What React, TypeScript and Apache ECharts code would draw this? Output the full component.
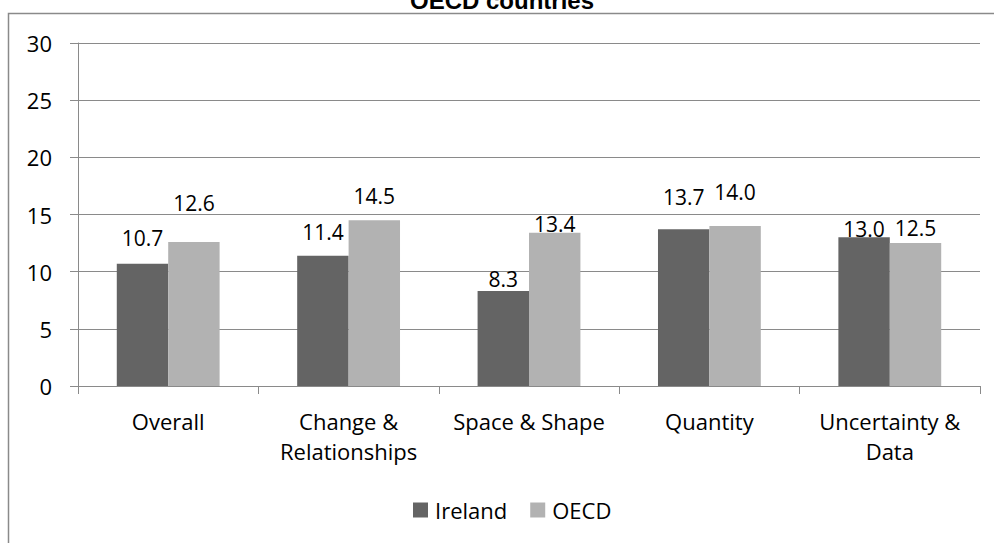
import React, { useEffect, useRef } from "react";
import * as echarts from "echarts";

const categories = ["Overall", "Change &\nRelationships", "Space & Shape", "Quantity", "Uncertainty &\nData"];
const irelandValues = [10.7, 11.4, 8.3, 13.7, 13.0];
const oecdValues = [12.6, 14.5, 13.4, 14.0, 12.5];
const seriesNames = ["Ireland", "OECD"];
const titleText = "OECD countries";

// label gaps above bars (style only)
const irelandLabelGap = [15, 13, 2, 22, -2];
const oecdLabelGap = [28, 14, -2, 23, 5];

const FONT = "'Open Sans', sans-serif";

export default function App() {
  const ref = useRef<HTMLDivElement>(null);
  useEffect(() => {
    if (!ref.current) return;
    const chart = echarts.init(ref.current, undefined, { renderer: "svg" });
    const mk = (vals: number[], gaps: number[]) =>
      vals.map((v, i) => ({ value: v, label: { distance: gaps[i] } }));
    chart.setOption({
      animation: false,
      backgroundColor: "#ffffff",
      textStyle: { fontFamily: FONT },
      graphic: [
        {
          type: "rect",
          shape: { x: 8.5, y: 13.5, width: 1100, height: 700 },
          style: { fill: "none", stroke: "#8a8a8a", lineWidth: 1.5 },
          silent: true,
        },
        {
          type: "text",
          x: 502,
          y: 12,
          style: {
            text: titleText,
            font: "bold 24px 'Liberation Sans', Arial, sans-serif",
            fill: "#000",
            textAlign: "center",
            textVerticalAlign: "bottom",
          },
        },
      ],
      grid: { left: 78, right: 14, top: 43, bottom: 157, containLabel: false },
      legend: {
        data: seriesNames,
        left: 413,
        top: 499,
        itemWidth: 15,
        itemHeight: 15,
        itemGap: 23,
        padding: 0,
        icon: "rect",
        textStyle: { fontFamily: FONT, fontSize: 22, color: "#000", padding: [0, 0, 0, 2], lineHeight: 22 },
      },
      xAxis: {
        type: "category",
        data: categories,
        axisLine: { lineStyle: { color: "#8a8a8a", width: 1 } },
        axisTick: { show: true, length: 8, lineStyle: { color: "#8a8a8a" } },
        axisLabel: { fontFamily: FONT, fontSize: 22, color: "#000", margin: 20, lineHeight: 30, interval: 0 },
      },
      yAxis: {
        type: "value",
        min: 0,
        max: 30,
        interval: 5,
        axisLine: { show: true, lineStyle: { color: "#8a8a8a", width: 1 } },
        axisTick: { show: true, length: 8, lineStyle: { color: "#8a8a8a" } },
        axisLabel: { fontFamily: FONT, fontSize: 22, color: "#000", margin: 26 },
        splitLine: { show: true, lineStyle: { color: "#8a8a8a", width: 1 } },
      },
      series: [
        {
          name: seriesNames[0],
          type: "bar",
          data: mk(irelandValues, irelandLabelGap),
          itemStyle: { color: "#646464" },
          barGap: "0%",
          barCategoryGap: "43%",
          label: {
            show: true,
            position: "top",
            fontFamily: FONT,
            fontSize: 21,
            color: "#000",
            formatter: (p: any) => Number(p.value).toFixed(1),
          },
        },
        {
          name: seriesNames[1],
          type: "bar",
          data: mk(oecdValues, oecdLabelGap),
          itemStyle: { color: "#b2b2b2" },
          barGap: "0%",
          barCategoryGap: "43%",
          label: {
            show: true,
            position: "top",
            fontFamily: FONT,
            fontSize: 21,
            color: "#000",
            formatter: (p: any) => Number(p.value).toFixed(1),
          },
        },
      ],
    });
    return () => chart.dispose();
  }, []);
  return (
    <div
      ref={ref}
      style={{ position: "absolute", left: 0, top: 0, width: 994, height: 543 }}
    />
  );
}
